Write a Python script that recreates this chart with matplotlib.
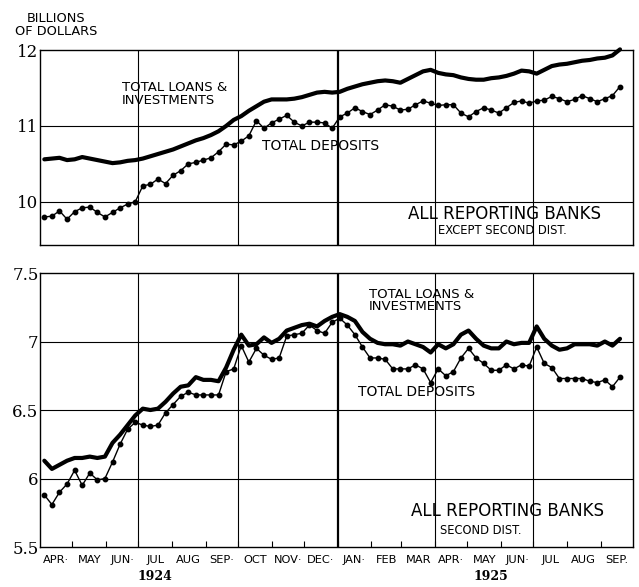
import matplotlib
matplotlib.use("Agg")
import matplotlib.pyplot as plt
import pandas as pd

# weekly reporting dates
weeks = pd.date_range("1924-04-05", periods=77, freq="7D")

# all reporting banks except second district (billions)
other_loans = [10.56, 10.57, 10.58, 10.55, 10.56, 10.59, 10.57, 10.55, 10.53, 10.51,
               10.52, 10.54, 10.55, 10.57, 10.60, 10.63, 10.66, 10.69, 10.73, 10.77,
               10.81, 10.84, 10.88, 10.93, 11.00, 11.08, 11.13, 11.20, 11.26, 11.32,
               11.35, 11.35, 11.35, 11.36, 11.38, 11.41, 11.44, 11.45, 11.44, 11.45,
               11.49, 11.52, 11.55, 11.57, 11.59, 11.60, 11.59, 11.57, 11.62, 11.67,
               11.72, 11.74, 11.70, 11.68, 11.67, 11.64, 11.62, 11.61, 11.61, 11.63,
               11.64, 11.66, 11.69, 11.73, 11.72, 11.69, 11.74, 11.79, 11.81, 11.82,
               11.84, 11.86, 11.87, 11.89, 11.90, 11.93, 12.01]
other_deposits = [9.80, 9.81, 9.88, 9.77, 9.87, 9.92, 9.93, 9.86, 9.80, 9.86,
                  9.92, 9.97, 10.00, 10.21, 10.23, 10.30, 10.24, 10.35, 10.41, 10.50,
                  10.52, 10.55, 10.58, 10.66, 10.76, 10.75, 10.80, 10.87, 11.07, 10.97,
                  11.04, 11.09, 11.14, 11.05, 11.00, 11.05, 11.05, 11.04, 10.97, 11.12,
                  11.17, 11.24, 11.19, 11.15, 11.21, 11.28, 11.26, 11.21, 11.22, 11.28,
                  11.33, 11.30, 11.27, 11.28, 11.28, 11.17, 11.12, 11.19, 11.24, 11.21,
                  11.17, 11.24, 11.31, 11.33, 11.30, 11.33, 11.34, 11.39, 11.36, 11.32,
                  11.35, 11.40, 11.36, 11.32, 11.36, 11.40, 11.52]

# second district
ny_loans = [6.13, 6.07, 6.10, 6.13, 6.15, 6.15, 6.16, 6.15, 6.16, 6.26,
            6.32, 6.39, 6.46, 6.51, 6.50, 6.51, 6.56, 6.62, 6.67, 6.68,
            6.74, 6.72, 6.72, 6.71, 6.81, 6.94, 7.05, 6.97, 6.98, 7.03,
            6.99, 7.02, 7.08, 7.10, 7.12, 7.13, 7.11, 7.15, 7.18, 7.20,
            7.18, 7.15, 7.07, 7.02, 6.99, 6.98, 6.98, 6.97, 7.00, 6.98,
            6.96, 6.92, 6.98, 6.95, 6.98, 7.05, 7.08, 7.02, 6.97, 6.95,
            6.95, 7.00, 6.98, 6.99, 6.99, 7.11, 7.02, 6.97, 6.94, 6.95,
            6.98, 6.98, 6.98, 6.97, 7.00, 6.97, 7.02]
ny_deposits = [5.88, 5.81, 5.90, 5.96, 6.06, 5.95, 6.04, 5.99, 6.00, 6.12,
               6.25, 6.36, 6.41, 6.39, 6.38, 6.39, 6.48, 6.54, 6.60, 6.63,
               6.61, 6.61, 6.61, 6.61, 6.78, 6.80, 6.97, 6.85, 6.95, 6.90,
               6.87, 6.88, 7.04, 7.05, 7.06, 7.12, 7.08, 7.06, 7.14, 7.17,
               7.12, 7.05, 6.96, 6.88, 6.88, 6.87, 6.80, 6.80, 6.80, 6.83,
               6.80, 6.70, 6.80, 6.75, 6.78, 6.88, 6.95, 6.88, 6.84, 6.79,
               6.79, 6.83, 6.80, 6.83, 6.82, 6.96, 6.84, 6.81, 6.73, 6.73,
               6.73, 6.73, 6.71, 6.70, 6.72, 6.67, 6.74]

month_labels = ["APR·", "MAY", "JUN·", "JUL", "AUG", "SEP·", "OCT", "NOV·", "DEC·",
                "JAN·", "FEB", "MAR", "APR·", "MAY", "JUN·", "JUL", "AUG", "SEP."]
top_ticks = [10, 11, 12]
bottom_ticks = [5.5, 6, 6.5, 7, 7.5]

month_starts = pd.date_range("1924-04-01", "1925-10-01", freq="MS")
month_mids = [a + (b - a) / 2 for a, b in zip(month_starts[:-1], month_starts[1:])]
quarters = pd.date_range("1924-07-01", "1925-07-01", freq="3MS")

fig = plt.figure(figsize=(6.39, 5.87), dpi=100)
ax1 = fig.add_axes([0.0626, 0.5826, 0.928, 0.332])
ax2 = fig.add_axes([0.0626, 0.0681, 0.928, 0.4668])


def setup(ax, ylim, yticks, grid_y):
    ax.set_xlim(month_starts[0], month_starts[-1])
    ax.set_ylim(*ylim)
    for q in quarters:
        lw = 1.6 if q.month == 1 else 0.8
        ax.axvline(q, color="black", lw=lw, zorder=1)
    for g in grid_y:
        ax.axhline(g, color="black", lw=0.8, zorder=1)
    ax.set_yticks(yticks)
    ax.set_yticklabels([("%g" % v) for v in yticks], fontsize=12, family="DejaVu Serif")
    ax.tick_params(axis="y", length=0, pad=1)
    for s in ax.spines.values():
        s.set_linewidth(1.0)


setup(ax1, (9.43, 12.0), top_ticks, [10, 11])
setup(ax2, (5.5, 7.5), bottom_ticks, [6, 6.5, 7])

ax1.set_xticks([])
ax2.set_xticks(month_mids)
ax2.set_xticklabels(month_labels, fontsize=8.2)
ax2.tick_params(axis="x", length=0, pad=6)
ax2.set_xticks(month_starts[1:-1], minor=True)
ax2.tick_params(axis="x", which="minor", direction="in", length=4, width=0.8)

for ax, loans, deps in [(ax1, other_loans, other_deposits), (ax2, ny_loans, ny_deposits)]:
    ax.plot(weeks, loans, color="black", lw=3.0, solid_capstyle="round", zorder=3, clip_on=False)
    ax.plot(weeks, deps, color="black", lw=1.0, marker="o", ms=3.2, zorder=3, clip_on=False)

# labels, top panel
ax1.text(0.138, 0.84, "TOTAL LOANS &\nINVESTMENTS", transform=ax1.transAxes,
         fontsize=9.5, va="top", ha="left", linespacing=0.92)
ax1.text(0.375, 0.51, "TOTAL DEPOSITS", transform=ax1.transAxes,
         fontsize=10, va="center", ha="left")
ax1.text(0.784, 0.16, "ALL REPORTING BANKS", transform=ax1.transAxes,
         fontsize=12, va="center", ha="center")
ax1.text(0.78, 0.075, "EXCEPT SECOND DIST.", transform=ax1.transAxes,
         fontsize=8.3, va="center", ha="center")

# labels, bottom panel
ax2.text(0.555, 0.945, "TOTAL LOANS &\nINVESTMENTS", transform=ax2.transAxes,
         fontsize=9.5, va="top", ha="left", linespacing=0.92)
ax2.text(0.536, 0.565, "TOTAL DEPOSITS", transform=ax2.transAxes,
         fontsize=10, va="center", ha="left")
ax2.text(0.788, 0.13, "ALL REPORTING BANKS", transform=ax2.transAxes,
         fontsize=12, va="center", ha="center")
ax2.text(0.675, 0.062, "SECOND DIST.", transform=ax2.transAxes,
         fontsize=8.3, va="center", ha="left")

fig.text(0.088, 0.958, "BILLIONS\nOF DOLLARS", fontsize=9.3, ha="center", va="center",
         linespacing=1.0)
fig.text(0.243, 0.006, "1924", fontsize=9, fontweight="bold", family="DejaVu Serif",
         ha="center", va="bottom")
fig.text(0.768, 0.006, "1925", fontsize=9, fontweight="bold", family="DejaVu Serif",
         ha="center", va="bottom")

fig.savefig("out.png", dpi=100)
